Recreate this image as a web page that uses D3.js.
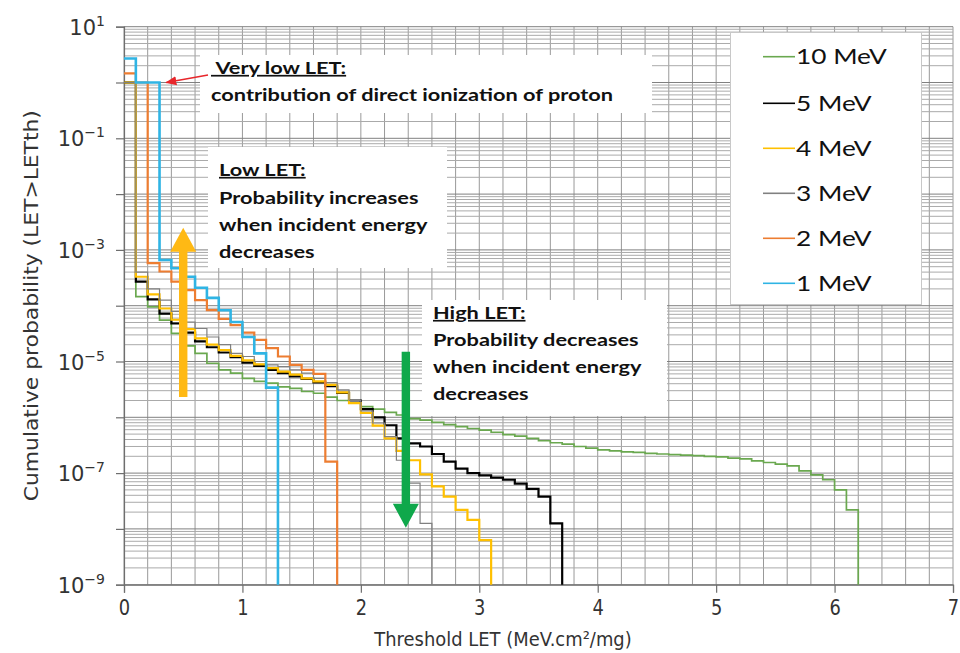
<!DOCTYPE html>
<html><head><meta charset="utf-8">
<script src="https://cdn.jsdelivr.net/npm/d3@7/dist/d3.min.js"></script>
<style>
body{margin:0;background:#fff}
svg{display:block}
</style>
</head><body>
<svg id="chart" width="960" height="653"></svg>
<script>
// ---------------- DATA ----------------
// lower edge of each 0.1-wide LET bin (MeV.cm2/mg)
const thresholds = [0,0.1,0.2,0.3,0.4,0.5,0.6,0.7,0.8,0.9,1.0,1.1,1.2,1.3,1.4,1.5,1.6,1.7,1.8,1.9,
  2.0,2.1,2.2,2.3,2.4,2.5,2.6,2.7,2.8,2.9,3.0,3.1,3.2,3.3,3.4,3.5,3.6,3.7,3.8,3.9,
  4.0,4.1,4.2,4.3,4.4,4.5,4.6,4.7,4.8,4.9,5.0,5.1,5.2,5.3,5.4,5.5,5.6,5.7,5.8,5.9,6.0,6.1,6.2];

const seriesNames = ["10 MeV","5 MeV","4 MeV","3 MeV","2 MeV","1 MeV"];
const seriesColors = ["#6aa84f","#000000","#ffc000","#808080","#ed7d31","#2fb4e4"];

// cumulative probability P(LET > LETth), one value per bin
const prob10MeV = [1.0,1.45e-4,9.5e-5,5.5e-5,3.2e-5,1.9e-5,1.4e-5,9.3e-6,7.1e-6,6.2e-6,
  5.0e-6,4.4e-6,4.1e-6,3.5e-6,3.3e-6,2.9e-6,2.7e-6,2.3e-6,2.0e-6,1.8e-6,
  1.55e-6,1.4e-6,1.23e-6,1.1e-6,9.5e-7,8.9e-7,8.1e-7,7.4e-7,6.8e-7,6.3e-7,
  5.9e-7,5.4e-7,4.9e-7,4.6e-7,4.2e-7,3.8e-7,3.5e-7,3.3e-7,3.0e-7,2.8e-7,
  2.6e-7,2.5e-7,2.4e-7,2.35e-7,2.25e-7,2.2e-7,2.15e-7,2.1e-7,2.05e-7,2.0e-7,
  1.95e-7,1.85e-7,1.8e-7,1.65e-7,1.55e-7,1.45e-7,1.35e-7,1.1e-7,9.3e-8,7.6e-8,
  5.0e-8,2.2e-8];
const prob5MeV = [1.0,2.7e-4,1.3e-4,7.2e-5,4.8e-5,3.3e-5,2.3e-5,1.8e-5,1.45e-5,1.2e-5,
  9.5e-6,8.3e-6,7.1e-6,6.2e-6,5.4e-6,4.9e-6,4.2e-6,3.6e-6,2.75e-6,2.0e-6,
  1.4e-6,1.0e-6,7.2e-7,4.2e-7,3.4e-7,3.0e-7,2.2e-7,1.6e-7,1.2e-7,1.0e-7,
  9.1e-8,8.3e-8,7.6e-8,6.5e-8,5.2e-8,3.8e-8,1.26e-8];
const prob4MeV = [1.0,3.3e-4,1.6e-4,8.9e-5,5.6e-5,3.8e-5,2.6e-5,2.0e-5,1.6e-5,1.26e-5,
  1.05e-5,8.9e-6,7.6e-6,6.6e-6,5.8e-6,5.0e-6,4.4e-6,3.8e-6,2.8e-6,1.8e-6,
  1.2e-6,7.1e-7,4.2e-7,2.5e-7,1.7e-7,9.5e-8,5.8e-8,3.8e-8,2.2e-8,1.45e-8,
  6.3e-9];
const prob3MeV = [1.0,4.0e-4,2.0e-4,1.26e-4,7.9e-5,5.1e-5,3.9e-5,2.75e-5,2.0e-5,1.4e-5,
  1.23e-5,1.0e-5,8.7e-6,8.1e-6,7.1e-6,6.2e-6,5.0e-6,4.2e-6,3.1e-6,2.0e-6,
  1.3e-6,7.9e-7,4.5e-7,1.7e-7,6.6e-8,1.26e-8];
const prob2MeV = [1.46,1.0,5.8e-4,4.1e-4,2.7e-4,1.9e-4,1.26e-4,8.3e-5,5.8e-5,4.5e-5,
  3.3e-5,2.45e-5,1.74e-5,1.23e-5,8.7e-6,7.1e-6,6.0e-6,1.6e-7];
const prob1MeV = [2.7,1.0,1.0,6.6e-4,4.7e-4,3.3e-4,2.1e-4,1.38e-4,8.3e-5,5.1e-5,
  2.75e-5,1.4e-5,3.4e-6];

const seriesValues = [prob10MeV,prob5MeV,prob4MeV,prob3MeV,prob2MeV,prob1MeV];
const seriesWidths = [1.7,2.2,2.2,1.2,2.2,2.6];

const xTickValues = [0,1,2,3,4,5,6,7];
const yDecades = [1e-9,1e-8,1e-7,1e-6,1e-5,1e-4,1e-3,1e-2,1e-1,1,10];
const yLabelExponents = ["1","−1","−3","−5","−7","−9"];
const yLabelValues = [10,1e-1,1e-3,1e-5,1e-7,1e-9];

const xTitle = "Threshold LET (MeV.cm²/mg)";
const yTitle = "Cumulative probability (LET>LETth)";

// ---------------- CHART ----------------
const svg = d3.select("#chart");
const x = d3.scaleLinear().domain([0,7]).range([124,953]);
const y = d3.scaleLog().domain([1e-9,10]).range([584.7,26.7]);
const [X0,X1] = x.range();
const [Y0,Y1] = y.range();

// grid
const grid = svg.append("g");
d3.range(0,7.0001,0.2).forEach(v=>{
  grid.append("line").attr("x1",x(v)).attr("x2",x(v)).attr("y1",Y1).attr("y2",Y0)
    .attr("stroke","#999").attr("stroke-width",1);
});
yDecades.forEach(d=>{
  if(d>=10) return;
  for(let k=1;k<=9;k++){
    const v=d*k;
    grid.append("line").attr("x1",X0).attr("x2",X1).attr("y1",y(v)).attr("y2",y(v))
      .attr("stroke", k===1?"#808080":"#aaaaaa").attr("stroke-width",1);
  }
});
grid.append("line").attr("x1",X0).attr("x2",X1).attr("y1",y(10)).attr("y2",y(10))
  .attr("stroke","#808080");

// white annotation boxes (cover grid)
const boxes = [
  {x:200,y:55,w:452,h:58},
  {x:208,y:147,w:239,h:121},
  {x:422,y:300,w:245,h:116},
  {x:730,y:32,w:192,h:273}
];
svg.append("g").selectAll("rect").data(boxes).join("rect")
  .attr("x",d=>d.x).attr("y",d=>d.y).attr("width",d=>d.w).attr("height",d=>d.h)
  .attr("fill","#fff");
// legend box border
svg.append("rect").attr("x",730.5).attr("y",32.5).attr("width",191).attr("height",272)
  .attr("fill","none").attr("stroke","#c8c8c8").attr("stroke-width",1);

// axes
const yAxis = d3.axisLeft(y).tickValues(yDecades).tickSize(8).tickFormat("");
const yg = svg.append("g").attr("transform",`translate(${X0},0)`).call(yAxis);
const xAxis = d3.axisBottom(x).tickValues(xTickValues).tickSize(8).tickPadding(7).tickFormat(d3.format("d"));
const xg = svg.append("g").attr("transform",`translate(0,${Y0})`).call(xAxis);
[yg,xg].forEach(g=>{
  g.select(".domain").attr("stroke","#6e6e6e").attr("stroke-width",1.2);
  g.selectAll(".tick line").attr("stroke","#6e6e6e").attr("stroke-width",1.2);
});
xg.selectAll(".tick text").attr("font-family","DejaVu Sans").attr("font-size",21)
  .attr("fill","#333").attr("transform","scale(0.85,1)");

// y tick labels with superscripts
const ylab = svg.append("g").attr("font-family","DejaVu Sans").attr("fill","#333");
yLabelValues.forEach((v,i)=>{
  const t = ylab.append("text").attr("x",X0-19).attr("y",y(v)+8).attr("text-anchor","end");
  t.append("tspan").attr("font-size",21).text("10");
  t.append("tspan").attr("font-size",14).attr("dy",-9).text(yLabelExponents[i]);
});

// titles
svg.append("text").attr("transform","translate(503,646) scale(0.92,1)").attr("text-anchor","middle")
  .attr("font-family","DejaVu Sans").attr("font-size",19.5).attr("fill","#333").text(xTitle);
svg.append("text").attr("transform",`translate(38,${(Y0+Y1)/2}) rotate(-90) scale(1.12,1)`)
  .attr("text-anchor","middle").attr("font-family","DejaVu Sans").attr("font-size",19.5)
  .attr("fill","#333").text(yTitle);

// curves
const line = d3.line().curve(d3.curveStepAfter).x(d=>x(d[0])).y(d=>y(d[1]));
const curves = svg.append("g").attr("fill","none");
seriesValues.forEach((vals,i)=>{
  const pts = vals.map((v,j)=>[thresholds[j],v]);
  pts.push([thresholds[vals.length], y.domain()[0]]);
  curves.append("path").attr("d",line(pts)).attr("stroke",seriesColors[i])
    .attr("stroke-width",seriesWidths[i]).attr("stroke-linejoin","miter");
});

// arrows (positioned in data space)
function blockArrow(xv, pFrom, pTo, color){
  const cx = x(xv), yA = y(pFrom), yB = y(pTo);
  const dir = yB < yA ? -1 : 1;
  const headLen = 24, headW = 13, shaft = 4.2;
  const yBase = yB - dir*headLen;
  const path = `M${cx-shaft},${yA} L${cx-shaft},${yBase} L${cx-headW},${yBase} L${cx},${yB} L${cx+headW},${yBase} L${cx+shaft},${yBase} L${cx+shaft},${yA} Z`;
  svg.append("path").attr("d",path).attr("fill",color);
}
blockArrow(0.5, 2.3e-6, 2.5e-3, "#ffb914");
blockArrow(2.38, 1.5e-5, 1.05e-8, "#0fa84b");

// red pointer arrow
const rx1 = 208, ry1 = 75, rx2 = x(0.34), ry2 = y(1.0);
svg.append("defs").append("marker").attr("id","redhead").attr("viewBox","0 0 10 10")
  .attr("refX",9).attr("refY",5).attr("markerWidth",7).attr("markerHeight",7).attr("orient","auto")
  .append("path").attr("d","M0,1 L10,5 L0,9 Z").attr("fill","#e8262b");
svg.append("line").attr("x1",rx1).attr("y1",ry1).attr("x2",rx2+2).attr("y2",ry2)
  .attr("stroke","#e8262b").attr("stroke-width",1.6).attr("marker-end","url(#redhead)");

// annotation texts
function annot(x0, lines){
  const g = svg.append("g").attr("transform",`translate(${x0},0) scale(1.28,1)`)
    .attr("font-family","Lato").attr("font-weight",700).attr("font-size",17).attr("fill","#111");
  lines.forEach(l=>{
    const t = g.append("text").attr("x",0).attr("y",l.y).text(l.t).style("white-space","pre");
    if(l.u) t.attr("text-decoration","underline");
  });
}
annot(211,[{t:"\u00a0Very low LET:",y:74,u:true},{t:"contribution of direct ionization of proton",y:101}]);
annot(219,[{t:"Low LET:",y:176,u:true},{t:"Probability increases",y:204},{t:"when incident energy",y:231},{t:"decreases",y:258}]);
annot(433,[{t:"High LET:",y:319,u:true},{t:"Probability decreases",y:346},{t:"when incident energy",y:373},{t:"decreases",y:400}]);

// legend
const legY = [56.7,103.3,148.3,193.3,238.3,283.3];
const leg = svg.append("g");
seriesNames.forEach((n,i)=>{
  leg.append("line").attr("x1",763).attr("x2",795).attr("y1",legY[i]).attr("y2",legY[i])
    .attr("stroke",seriesColors[i]).attr("stroke-width",1.6);
  leg.append("text").attr("transform",`translate(796,${legY[i]+7.6}) scale(1.25,1)`)
    .attr("font-family","Lato").attr("font-size",21).attr("fill","#111").text(n);
});
</script>
</body></html>
